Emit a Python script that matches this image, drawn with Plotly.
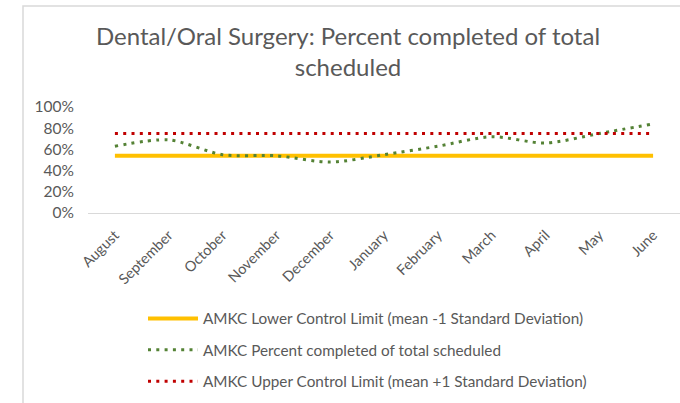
import plotly.graph_objects as go

months = ["August", "September", "October", "November", "December", "January",
          "February", "March", "April", "May", "June"]
percent_completed = [0.63, 0.69, 0.55, 0.54, 0.48, 0.55, 0.63, 0.72, 0.66, 0.75, 0.84]
lower_limit = [0.54] * 11
upper_limit = [0.75] * 11
y_ticks = [0, 0.2, 0.4, 0.6, 0.8, 1.0]

FONT = "Lato"
GREY = "#595959"

fig = go.Figure()
fig.add_trace(go.Scatter(
    x=months, y=lower_limit, mode="lines",
    name="AMKC Lower Control Limit (mean -1 Standard Deviation)",
    line=dict(color="#FFC000", width=4), legendgroup="a"))
fig.add_trace(go.Scatter(
    x=months, y=percent_completed, mode="lines",
    name="AMKC Percent completed of total scheduled",
    line=dict(color="#548235", width=3, dash="3px,5.3px", shape="spline", smoothing=0.8),
    legendgroup="b"))
fig.add_trace(go.Scatter(
    x=months, y=upper_limit, mode="lines",
    name="AMKC Upper Control Limit (mean +1 Standard Deviation)",
    line=dict(color="#C00000", width=3, dash="3px,5.3px"), legendgroup="c"))

L, T, R, B = 88, 107, 0, 190
W, H = 680, 403
pw = W - L - R
ph = H - T - B

fig.update_layout(
    width=W, height=H,
    margin=dict(l=L, r=R, t=T, b=B, pad=0, autoexpand=False),
    paper_bgcolor="white", plot_bgcolor="white",
    font=dict(family=FONT, color=GREY),
    title=dict(text="Dental/Oral Surgery: Percent completed of total<br>scheduled",
               x=(348) / W, xanchor="center", y=1 - 45 / H, yanchor="top",
               font=dict(size=24, color=GREY, family=FONT), automargin=False),
    showlegend=True,
    legend=dict(x=(143 - L) / pw, xanchor="left", y=(ph - (302 - T)) / ph, yanchor="top",
                orientation="v", tracegroupgap=8.5, itemwidth=50,
                font=dict(size=15.3, color=GREY, family=FONT),
                bgcolor="rgba(0,0,0,0)"),
    xaxis=dict(showgrid=False, showline=True, linecolor="#D9D9D9", linewidth=1,
               tickangle=-45, tickfont=dict(size=14.5, color=GREY), ticks="",
               ticklabelstandoff=7, range=[-0.5, 10.5], automargin=False),
    yaxis=dict(range=[0, 1], tickvals=y_ticks, tickformat=".0%", showgrid=False,
               zeroline=False, showline=False, tickfont=dict(size=15.5, color=GREY),
               ticks="", ticklabelstandoff=13, automargin=False),
)

fig.add_shape(type="path", xref="paper", yref="paper",
              path=f"M {(23 - L) / pw} -3 L {(23 - L) / pw} {(ph - (6 - T)) / ph} L 1.2 {(ph - (6 - T)) / ph}",
              line=dict(color="#D9D9D9", width=1.5))

fig.write_html("out.html", config={"displayModeBar": False},
               post_script="document.body.style.margin='0';")
